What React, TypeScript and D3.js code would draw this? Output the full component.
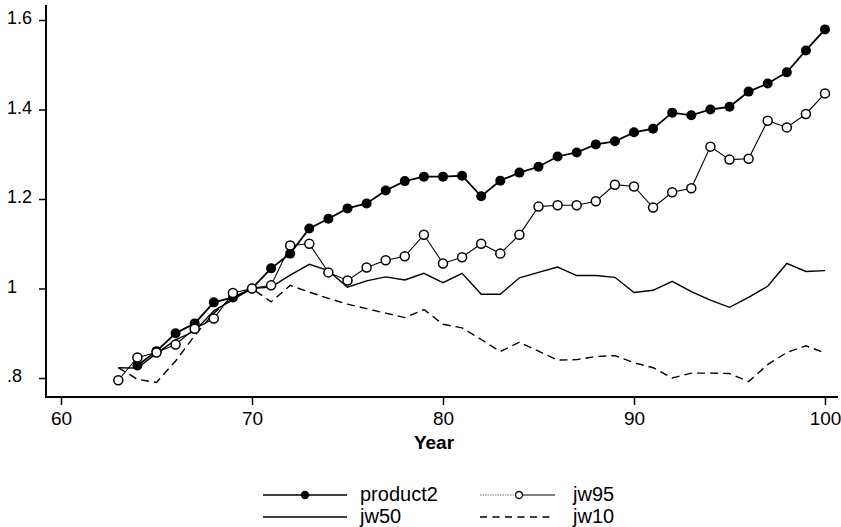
import React, { useRef, useEffect } from 'react'
import * as d3 from 'd3'

const years = [63, 64, 65, 66, 67, 68, 69, 70, 71, 72, 73, 74, 75, 76, 77, 78, 79, 80, 81, 82,
  83, 84, 85, 86, 87, 88, 89, 90, 91, 92, 93, 94, 95, 96, 97, 98, 99, 100]

const product2 = [null, 0.828, 0.86, 0.9, 0.922, 0.969, 0.98, 1.0, 1.045, 1.078, 1.134, 1.156, 1.179,
  1.19, 1.219, 1.24, 1.25, 1.25, 1.252, 1.206, 1.241, 1.259, 1.272, 1.295, 1.304, 1.322, 1.329,
  1.349, 1.357, 1.393, 1.387, 1.4, 1.406, 1.44, 1.458, 1.483, 1.532, 1.579]

const jw95 = [0.795, 0.846, 0.857, 0.875, 0.91, 0.933, 0.99, 1.0, 1.007, 1.096, 1.1, 1.036, 1.018,
  1.047, 1.063, 1.072, 1.12, 1.056, 1.07, 1.1, 1.078, 1.12, 1.183, 1.186, 1.186, 1.195, 1.232,
  1.228, 1.181, 1.215, 1.224, 1.317, 1.288, 1.29, 1.375, 1.36, 1.39, 1.436]

const jw50 = [0.823, 0.822, 0.855, 0.885, 0.905, 0.95, 0.975, 1.0, 1.003, 1.03, 1.054, 1.04, 1.003,
  1.017, 1.026, 1.019, 1.034, 1.013, 1.034, 0.987, 0.987, 1.024, 1.036, 1.048, 1.029, 1.029, 1.025,
  0.991, 0.996, 1.016, 0.993, 0.974, 0.958, 0.98, 1.005, 1.056, 1.038, 1.04]

const jw10 = [0.823, 0.797, 0.79, 0.838, 0.895, 0.945, 0.98, 1.0, 0.97, 1.007, 0.992, 0.978, 0.965,
  0.955, 0.945, 0.935, 0.953, 0.92, 0.912, 0.886, 0.859, 0.88, 0.86, 0.84, 0.841, 0.848, 0.85,
  0.834, 0.823, 0.8, 0.811, 0.811, 0.81, 0.792, 0.83, 0.857, 0.872, 0.856]

const xTicks = [60, 70, 80, 90, 100]
const yTicks = [0.8, 1, 1.2, 1.4, 1.6]
const yTickLabels = ['.8', '1', '1.2', '1.4', '1.6']

const font = '"Liberation Sans", Arial, Helvetica, sans-serif'

const App = () => {
  const ref = useRef(null)

  useEffect(() => {
    const w = 841
    const h = 527
    const svg = d3.select(ref.current)
      .attr('width', w)
      .attr('height', h)
      .style('background', 'white')
    svg.selectAll('*').remove()

    const x = d3.scaleLinear().domain([60, 100]).range([61, 825])
    const y = d3.scaleLinear().domain([0.8, 1.6]).range([378, 20])
    const axisX0 = 46
    const axisY0 = 397

    // axes
    svg.append('line')
      .attr('x1', axisX0).attr('x2', axisX0)
      .attr('y1', 5).attr('y2', axisY0)
      .attr('stroke', 'black').attr('stroke-width', 2)
    svg.append('line')
      .attr('x1', axisX0 - 1).attr('x2', 838)
      .attr('y1', axisY0).attr('y2', axisY0)
      .attr('stroke', 'black').attr('stroke-width', 2)

    const xAxis = d3.axisBottom(x)
      .tickValues(xTicks)
      .tickSize(8)
      .tickPadding(7)
    const gx = svg.append('g')
      .attr('transform', `translate(0, ${axisY0})`)
      .call(xAxis)
    gx.select('.domain').remove()
    gx.selectAll('line').attr('stroke-width', 1.5)
    gx.selectAll('text')
      .style('font-family', font)
      .style('font-size', '19px')
      .attr('fill', 'black')

    const yAxis = d3.axisLeft(y)
      .tickValues(yTicks)
      .tickSize(7)
      .tickFormat((d, i) => yTickLabels[i])
    const gy = svg.append('g')
      .attr('transform', `translate(${axisX0}, 0)`)
      .call(yAxis)
    gy.select('.domain').remove()
    gy.selectAll('line').attr('stroke-width', 1.5)
    gy.selectAll('text')
      .attr('x', 7 - axisX0)
      .attr('dy', '0.22em')
      .attr('text-anchor', 'start')
      .style('font-family', font)
      .style('font-size', '18px')
      .attr('fill', 'black')

    svg.append('text')
      .attr('x', 434)
      .attr('y', 449)
      .attr('text-anchor', 'middle')
      .style('font-family', font)
      .style('font-size', '19px')
      .style('font-weight', 'bold')
      .text('Year')

    const rows = years.map((yr, i) => ({
      yr, p: product2[i], j95: jw95[i], j50: jw50[i], j10: jw10[i]
    }))
    const lineOf = key => d3.line()
      .defined(d => d[key] != null)
      .x(d => x(d.yr))
      .y(d => y(d[key]))

    svg.append('path')
      .datum(rows)
      .attr('d', lineOf('j10'))
      .attr('fill', 'none')
      .attr('stroke', 'black')
      .attr('stroke-width', 1.4)
      .attr('stroke-dasharray', '8,5')

    svg.append('path')
      .datum(rows)
      .attr('d', lineOf('j50'))
      .attr('fill', 'none')
      .attr('stroke', 'black')
      .attr('stroke-width', 1.4)

    // product2
    svg.append('path')
      .datum(rows)
      .attr('d', lineOf('p'))
      .attr('fill', 'none')
      .attr('stroke', 'black')
      .attr('stroke-width', 1.8)
    svg.selectAll('.dot-p')
      .data(rows.filter(d => d.p != null))
      .enter().append('circle')
      .attr('class', 'dot-p')
      .attr('cx', d => x(d.yr))
      .attr('cy', d => y(d.p))
      .attr('r', 5)
      .attr('fill', 'black')

    // jw95
    svg.append('path')
      .datum(rows)
      .attr('d', lineOf('j95'))
      .attr('fill', 'none')
      .attr('stroke', 'black')
      .attr('stroke-width', 1.1)
    svg.selectAll('.dot-95')
      .data(rows)
      .enter().append('circle')
      .attr('class', 'dot-95')
      .attr('cx', d => x(d.yr))
      .attr('cy', d => y(d.j95))
      .attr('r', 4.5)
      .attr('fill', 'white')
      .attr('stroke', 'black')
      .attr('stroke-width', 1.5)

    // legend
    const leg = svg.append('g')
    const legText = (tx, ty, label) => leg.append('text')
      .attr('x', tx).attr('y', ty)
      .style('font-family', font)
      .style('font-size', '20px')
      .text(label)

    leg.append('line').attr('x1', 263).attr('x2', 347).attr('y1', 495).attr('y2', 495)
      .attr('stroke', 'black').attr('stroke-width', 1.6)
    leg.append('circle').attr('cx', 305).attr('cy', 495).attr('r', 4.2).attr('fill', 'black')
    legText(360, 501, 'product2')

    leg.append('line').attr('x1', 480).attr('x2', 514).attr('y1', 495).attr('y2', 495)
      .attr('stroke', '#777').attr('stroke-width', 1).attr('stroke-dasharray', '1.5,1')
    leg.append('line').attr('x1', 522).attr('x2', 555).attr('y1', 495).attr('y2', 495)
      .attr('stroke', 'black').attr('stroke-width', 1.2)
    leg.append('circle').attr('cx', 519).attr('cy', 495).attr('r', 3.5)
      .attr('fill', 'white').attr('stroke', 'black').attr('stroke-width', 1.3)
    legText(573, 501, 'jw95')

    leg.append('line').attr('x1', 263).attr('x2', 347).attr('y1', 517).attr('y2', 517)
      .attr('stroke', 'black').attr('stroke-width', 1.4)
    legText(360, 523, 'jw50')

    leg.append('line').attr('x1', 480).attr('x2', 555).attr('y1', 517).attr('y2', 517)
      .attr('stroke', 'black').attr('stroke-width', 1.4).attr('stroke-dasharray', '7,5.5')
    legText(573, 523, 'jw10')
  }, [])

  return (
    <div style={{ position: 'absolute', left: 0, top: 0 }}>
      <svg ref={ref}></svg>
    </div>
  )
}

export default App
